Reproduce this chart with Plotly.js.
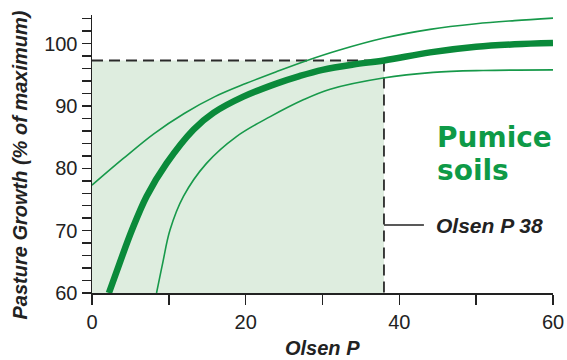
<!DOCTYPE html>
<html>
<head>
<meta charset="utf-8">
<script src="https://cdn.plot.ly/plotly-3.0.1.min.js"></script>
<style>html,body{margin:0;padding:0;background:#fff;}#chart{width:567px;height:360px;}</style>
</head>
<body>
<div id="chart"></div>
<script>
// Response curve (Olsen P vs % of maximum pasture growth)
const mainX  = [2.2, 3.6, 5.2, 7.1, 9.7, 13.2, 15.8, 19.7, 24, 27, 30, 34, 38, 44, 50, 55, 60];
const mainY  = [60, 64.8, 70.1, 75.5, 80.8, 86.2, 88.9, 91.5, 93.6, 94.8, 95.8, 96.65, 97.3, 98.6, 99.5, 99.9, 100.1];
// Upper confidence band
const upperX = [0, 4, 8, 12, 16, 20, 24, 28, 32, 38, 44, 50, 55, 60];
const upperY = [77.3, 81.5, 85.5, 88.8, 91.5, 93.6, 95.5, 97.3, 98.9, 100.9, 102.3, 103.2, 103.7, 104.1];
// Lower confidence band
const lowerX = [8.4, 9.2, 10.15, 11.9, 14.9, 18.8, 23.2, 27.5, 31, 37.9, 44.4, 50.9, 60];
const lowerY = [60, 64.8, 70.1, 75.5, 80.8, 85.1, 88.3, 91.0, 92.7, 94.5, 95.4, 95.7, 95.8];
// Optimum marker
const optimumP = 38;
const optimumGrowth = 97.3;
const optimumLabel = "Olsen P 38";
const soilLabel = ["Pumice", "soils"];
const xTitle = "Olsen P";
const yTitle = "Pasture Growth (% of maximum)";
const xRange = [0, 60];
const yRange = [60, 104.6];
// Tick marks and their labels (unlabelled ones are minor ticks)
const xTickVals = [0, 10, 20, 30, 40, 50, 60];
const xTickText = ['0', '', '20', '', '40', '', '60'];
const yTickVals = [60, 62, 64, 66, 68, 70, 72, 74, 76, 78, 80, 82, 84, 86, 88, 90, 92, 94, 96, 98, 100, 102, 104];
const yTickText = ['60', '', '', '', '', '70', '', '', '', '', '80', '', '', '', '', '90', '', '', '', '', '100', '', ''];

const thin = '#17994a', thick = '#0a8a3a', ink = '#222222';
const traces = [
  {x: upperX, y: upperY, mode: 'lines', line: {color: thin, width: 1.6, shape: 'spline', smoothing: 1}, hoverinfo: 'skip'},
  {x: lowerX, y: lowerY, mode: 'lines', line: {color: thin, width: 1.6, shape: 'spline', smoothing: 1}, hoverinfo: 'skip'},
  {x: mainX, y: mainY, mode: 'lines', line: {color: thick, width: 6.5, shape: 'spline', smoothing: 1}, hoverinfo: 'skip'}
];

const tickFont = {family: 'Liberation Sans, Arial, sans-serif', size: 20, color: ink};
const titleFont = {family: 'Liberation Sans, Arial, sans-serif', size: 20, color: ink, weight: 'bold', style: 'italic'};

const layout = {
  width: 567, height: 360,
  margin: {l: 92, r: 14, t: 15, b: 67, pad: 0},
  paper_bgcolor: '#ffffff', plot_bgcolor: 'rgba(0,0,0,0)',
  showlegend: false,
  xaxis: {
    range: xRange, tickmode: 'array', tickvals: xTickVals, ticktext: xTickText,
    ticks: 'outside', ticklen: 10, tickwidth: 1.5, tickcolor: ink,
    showline: true, linecolor: ink, linewidth: 1.5, showgrid: false, zeroline: false, tickfont: tickFont,
    fixedrange: true
  },
  yaxis: {
    range: yRange, tickmode: 'array', tickvals: yTickVals, ticktext: yTickText,
    ticks: 'outside', ticklen: 9, tickwidth: 1.5, tickcolor: ink,
    showline: true, linecolor: ink, linewidth: 1.5, showgrid: false, zeroline: false, tickfont: tickFont,
    fixedrange: true
  },
  shapes: [
    {type: 'rect', xref: 'x', yref: 'y', x0: xRange[0], x1: optimumP, y0: yRange[0], y1: optimumGrowth,
     fillcolor: '#deeddf', line: {width: 0}, layer: 'below'},
    {type: 'line', xref: 'x', yref: 'y', x0: xRange[0], x1: optimumP, y0: optimumGrowth, y1: optimumGrowth,
     line: {color: '#2a2a2a', width: 1.8, dash: '11px,6px'}, layer: 'below'},
    {type: 'line', xref: 'x', yref: 'y', x0: optimumP, x1: optimumP, y0: optimumGrowth, y1: yRange[0],
     line: {color: '#2a2a2a', width: 1.8, dash: '11px,6px'}, layer: 'below'},
    {type: 'line', xref: 'x', yref: 'y', x0: optimumP, x1: 43.2, y0: 70.9, y1: 70.9,
     line: {color: ink, width: 1.5}}
  ],
  annotations: [
    {xref: 'paper', yref: 'paper', x: 0.5, y: 0, xanchor: 'center', yanchor: 'middle', yshift: -55,
     text: xTitle, showarrow: false, font: titleFont},
    {xref: 'paper', yref: 'paper', x: 0, y: 0.4586, xanchor: 'center', yanchor: 'middle', xshift: -72,
     text: yTitle, textangle: -90, showarrow: false, font: titleFont},
    {xref: 'x', yref: 'y', x: 44.5, y: 70.9, xanchor: 'left', yanchor: 'middle',
     text: optimumLabel, showarrow: false, font: Object.assign({}, titleFont, {size: 21})},
    {xref: 'x', yref: 'y', x: 44.6, y: 84.9, xanchor: 'left', yanchor: 'middle',
     text: soilLabel[0], showarrow: false,
     font: {family: 'DejaVu Sans, sans-serif', size: 28, color: '#0e9a47', weight: 'bold'}},
    {xref: 'x', yref: 'y', x: 44.6, y: 79.6, xanchor: 'left', yanchor: 'middle',
     text: soilLabel[1], showarrow: false,
     font: {family: 'DejaVu Sans, sans-serif', size: 28, color: '#0e9a47', weight: 'bold'}}
  ]
};

Plotly.newPlot('chart', traces, layout, {staticPlot: true, displayModeBar: false});
</script>
</body>
</html>
